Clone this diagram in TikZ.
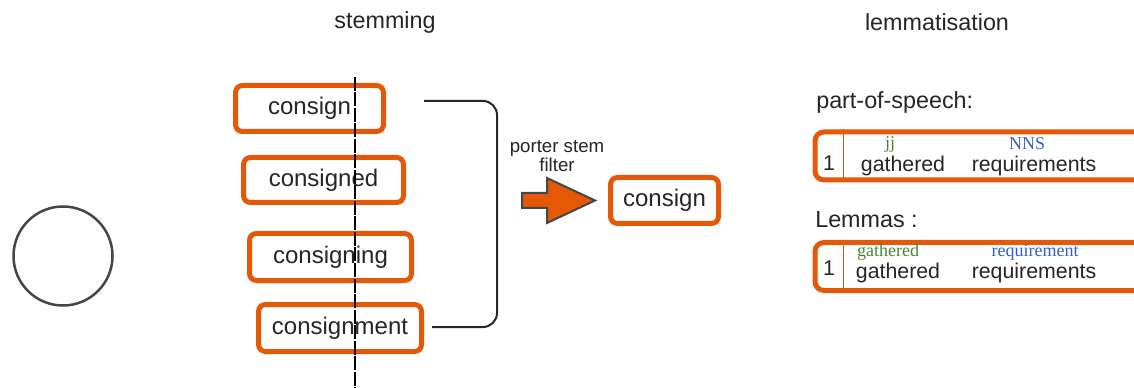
\documentclass[tikz,border=0pt]{standalone}
\usepackage{fontspec}
\setmainfont{Liberation Sans}
\newfontfamily\tagfont{Liberation Serif}
\usepackage{tikz}
\usetikzlibrary{calc}
\definecolor{boxorange}{RGB}{228, 88, 8}
\definecolor{inkgray}{RGB}{38, 38, 38}
\definecolor{ringgray}{RGB}{70, 70, 70}
\definecolor{taggreen}{RGB}{70, 135, 50}
\definecolor{tagblue}{RGB}{50, 95, 200}
\newcommand{\pxu}{0.75pt}

\tikzset{
  wordbox/.style={draw=boxorange, line width=5*\pxu, rounded corners=7*\pxu, fill=white,
                  text=inkgray, inner sep=0pt, font=\fontsize{18}{20}\selectfont},
  tablebox/.style={draw=boxorange, line width=5*\pxu, rounded corners=9*\pxu, inner sep=0pt,
                   minimum width=360*\pxu, minimum height=48*\pxu},
  head/.style={text=inkgray, font=\fontsize{17.5}{20}\selectfont},
  cell/.style={text=inkgray, inner sep=0pt, font=\fontsize{16}{18}\selectfont},
  tag/.style={inner sep=0pt, font=\tagfont\fontsize{13.5}{15}\selectfont},
}

\begin{document}
\begin{tikzpicture}[x=0.75pt, y=-0.75pt]
    % Background
    \useasboundingbox (0,0) rectangle (1134,388);
    \clip (0,0) rectangle (1134,388);
    \fill[white] (0,0) rectangle (1134,388);

    % Titles
    \node[head] (stemhead) at (385,22) {stemming};
    \node[head] (lemhead) at (937,22) {lemmatisation};

    % Circle
    \node[draw=ringgray, line width=2.5*\pxu, circle, minimum size=99*\pxu, inner sep=0pt] (ring) at (63,256) {};

    % Word boxes
    \node[wordbox, minimum width=148*\pxu, minimum height=46*\pxu] (w1) at (309.5,108.5) {consign};
    \node[wordbox, minimum width=160*\pxu, minimum height=45*\pxu] (w2) at (323.5,180) {consigned};
    \node[wordbox, minimum width=162*\pxu, minimum height=47*\pxu] (w3) at (330.5,257) {consigning};
    \node[wordbox, minimum width=163*\pxu, minimum height=47*\pxu] (w4) at (340,328) {consignment};

    % Cut line
    \draw[black, line width=1.5*\pxu, dash pattern=on 14*\pxu off 1.5*\pxu] (355,77) -- (355,390);

    % Bracket
    \coordinate (bt) at (424,101);
    \coordinate (bb) at (432,327);
    \draw[inkgray, line width=2*\pxu, rounded corners=14*\pxu] (bt) -- (497,101) -- (497,327) -- (bb);

    % Filter
    \node[text=inkgray, align=center, font=\fontsize{14}{13}\selectfont] (filtlabel) at (557,156) {porter stem\\filter};
    \coordinate (filt) at (522,200.5);
    \filldraw[fill=boxorange, draw=ringgray, line width=2*\pxu, line join=miter]
        (filt) ++(0,-7.5) -- ++(25,0) -- ++(0,-15) -- ++(48,22.5) -- ++(-48,22.5)
        -- ++(0,-15) -- ++(-25,0) -- cycle;
    \node[wordbox, minimum width=108*\pxu, minimum height=46*\pxu] (stem) at (664.5,200.5) {consign};

    % Part-of-speech
    \node[head, anchor=west, inner sep=0pt] (poshead) at (816,102) {part-of-speech:};
    \node[tablebox, anchor=west] (t1) at (812.5,156) {};
    \draw[boxorange, line width=1.5*\pxu] ($(t1.north west)+(31,0)$) -- ($(t1.south west)+(31,0)$);
    \node[cell] (n1) at (829,163) {1};
    \node[tag, text=taggreen] (pj) at (890,144) {jj};
    \node[tag, text=tagblue] (pn) at (1027,144) {NNS};
    \node[cell] (g1) at (903,166) {gathered};
    \node[cell] (r1) at (1034,166) {requirements};

    % Lemmas
    \node[head, anchor=west, inner sep=0pt] (lemmas) at (815,220) {Lemmas :};
    \node[tablebox, anchor=west] (t2) at (812.5,266.5) {};
    \draw[boxorange, line width=1.5*\pxu] ($(t2.north west)+(31,0)$) -- ($(t2.south west)+(31,0)$);
    \node[cell] (n2) at (829,268) {1};
    \node[tag, text=taggreen] (lg) at (888,252) {gathered};
    \node[tag, text=tagblue] (lr) at (1035,252) {requirement};
    \node[cell] (g2) at (898,273) {gathered};
    \node[cell] (r2) at (1034,273) {requirements};
\end{tikzpicture}
\end{document}
